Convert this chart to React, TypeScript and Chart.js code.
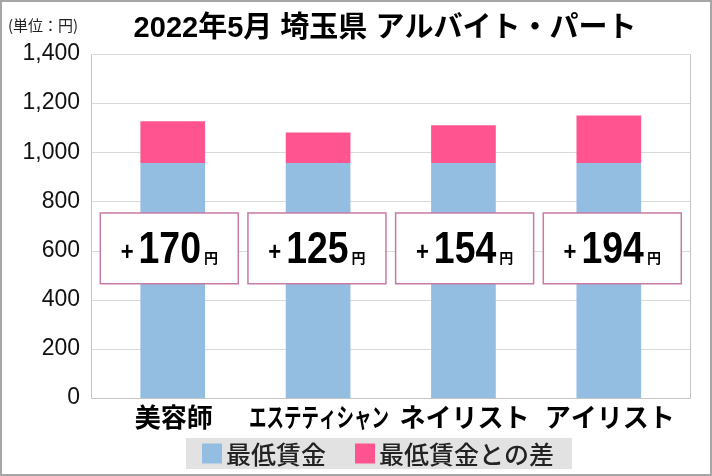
import { useEffect, useRef } from "react";
import { Chart, registerables, type ChartConfiguration, type Plugin } from "chart.js";

Chart.register(...registerables);

// 2022年5月 埼玉県 アルバイト・パート：最低賃金と平均時給の差
const TITLE = "2022年5月 埼玉県 アルバイト・パート";
const UNIT = "(単位：円)";
const CATEGORIES = ["美容師", "エステティシャン", "ネイリスト", "アイリスト"];
const MIN_WAGE = [956, 956, 956, 956];
const DIFF = [170, 125, 154, 194];
const SERIES_LABELS = ["最低賃金", "最低賃金との差"];
const SERIES_COLORS = ["#93BEE2", "#FF5490"];
const Y_MAX = 1400;
const Y_STEP = 200;

const JP = "'Noto Sans CJK JP', 'Liberation Sans', sans-serif";
const NUM = "'Liberation Sans', Arial, sans-serif";

// plot frame sticks out a little past the outermost bars, as in the source
const FRAME_LEFT = 9;
const FRAME_RIGHT = 8;

const decorPlugin: Plugin<"bar"> = {
  id: "decor",
  beforeDatasetsDraw(chart) {
    const { ctx, chartArea, scales } = chart;
    const y = scales.y;
    const l = Math.round(chartArea.left - FRAME_LEFT) + 0.5;
    const r = Math.round(chartArea.right + FRAME_RIGHT) + 0.5;
    ctx.save();
    ctx.lineWidth = 1;
    ctx.strokeStyle = "#d9d9d9";
    y.ticks.forEach((t) => {
      if (t.value === 0) return;
      const py = Math.round(y.getPixelForValue(t.value)) + 0.5;
      ctx.beginPath();
      ctx.moveTo(l, py);
      ctx.lineTo(r, py);
      ctx.stroke();
    });
    ctx.strokeStyle = "#c4c4c4";
    const t = Math.round(y.getPixelForValue(Y_MAX)) + 0.5;
    const b = Math.round(y.getPixelForValue(0)) + 0.5;
    ctx.beginPath();
    ctx.moveTo(l, t);
    ctx.lineTo(l, b);
    ctx.lineTo(r, b);
    ctx.lineTo(r, t);
    ctx.stroke();
    ctx.restore();
  },
  afterDatasetsDraw(chart) {
    const { ctx, scales } = chart;
    const x = scales.x;
    const y = scales.y;
    ctx.save();

    // difference callouts
    const top = y.getPixelForValue(753);
    const bottom = y.getPixelForValue(465);
    const mid = (top + bottom) / 2;
    const sx = 0.85;
    DIFF.forEach((d, i) => {
      const cx = x.getPixelForValue(i) + (i - 1.5) * 2.3;
      const w = 138;
      ctx.fillStyle = "#ffffff";
      ctx.fillRect(cx - w / 2, top, w, bottom - top);
      ctx.strokeStyle = "#C77AA3";
      ctx.lineWidth = 1.5;
      ctx.strokeRect(cx - w / 2, top, w, bottom - top);

      const plus = "+";
      const num = String(d);
      const yen = "円";
      ctx.font = `bold 26px ${NUM}`;
      const wPlus = ctx.measureText(plus).width * sx;
      ctx.font = `bold 44px ${NUM}`;
      const wNum = ctx.measureText(num).width * sx;
      ctx.font = `bold 14px ${JP}`;
      const wYen = ctx.measureText(yen).width;
      const total = wPlus + 5 + wNum + 3 + wYen;
      let tx = cx - total / 2;
      const base = mid + 15;
      ctx.fillStyle = "#000";
      ctx.textBaseline = "alphabetic";
      ctx.textAlign = "left";

      ctx.save();
      ctx.translate(tx, base);
      ctx.scale(sx, 1);
      ctx.font = `bold 26px ${NUM}`;
      ctx.fillText(plus, 0, -3);
      ctx.restore();
      tx += wPlus + 5;

      ctx.save();
      ctx.translate(tx, base);
      ctx.scale(sx, 1);
      ctx.font = `bold 44px ${NUM}`;
      ctx.fillText(num, 0, 0);
      ctx.restore();
      tx += wNum + 3;

      ctx.font = `bold 14px ${JP}`;
      ctx.fillText(yen, tx, base);
    });
    ctx.restore();
  },
  afterDraw(chart) {
    const { ctx, chartArea, scales, width, height } = chart;
    const x = scales.x;
    ctx.save();

    // title and unit
    ctx.fillStyle = "#000";
    ctx.textAlign = "center";
    ctx.textBaseline = "middle";
    ctx.font = `bold 29px 'Liberation Sans', ${JP}`;
    ctx.fillText(TITLE, 385, 29);
    ctx.textAlign = "left";
    ctx.font = `15px ${JP}`;
    ctx.fillStyle = "#222";
    ctx.fillText(UNIT, 8, 25);

    // category labels
    ctx.fillStyle = "#000";
    ctx.textAlign = "center";
    ctx.font = `bold 26px ${JP}`;
    CATEGORIES.forEach((c, i) => {
      ctx.fillText(c, x.getPixelForValue(i) + 1, chartArea.bottom + 19, 140);
    });

    // legend with grey panel
    ctx.font = `500 25px ${JP}`;
    const box = 20;
    const gapText = 4;
    const gapItem = 29;
    const items = SERIES_LABELS.map((l) => ctx.measureText(l).width);
    const inner = items.reduce((s, w) => s + box + gapText + w, 0) + gapItem;
    const cx = 378;
    const padL = 16;
    const padR = 18;
    const start = cx - inner / 2;
    const ly = chartArea.bottom + 55.5;
    ctx.fillStyle = "#E2E2E2";
    ctx.fillRect(start - padL, ly - 15.5, inner + padL + padR, 31);
    let lx = start;
    SERIES_LABELS.forEach((l, i) => {
      ctx.fillStyle = SERIES_COLORS[i];
      ctx.fillRect(lx, ly - box / 2, box, box);
      lx += box + gapText;
      ctx.fillStyle = "#222";
      ctx.textAlign = "left";
      ctx.fillText(l, lx, ly + 1);
      lx += items[i] + gapItem;
    });

    // outer frame
    ctx.strokeStyle = "#a6a6a6";
    ctx.lineWidth = 2;
    ctx.strokeRect(1, 1, width - 2, height - 2);
    ctx.restore();
  },
};

export default function App() {
  const canvasRef = useRef<HTMLCanvasElement>(null);

  useEffect(() => {
    if (!canvasRef.current) return;
    const cfg: ChartConfiguration<"bar", number[], string> = {
      type: "bar",
      data: {
        labels: CATEGORIES,
        datasets: [
          {
            label: SERIES_LABELS[0],
            data: MIN_WAGE,
            backgroundColor: SERIES_COLORS[0],
            barPercentage: 0.445,
            categoryPercentage: 1,
          },
          {
            label: SERIES_LABELS[1],
            data: DIFF,
            backgroundColor: SERIES_COLORS[1],
            barPercentage: 0.445,
            categoryPercentage: 1,
          },
        ],
      },
      options: {
        animation: false,
        responsive: false,
        devicePixelRatio: 1,
        layout: { padding: { top: 54, bottom: 70, left: 2.5, right: 30.5 } },
        plugins: {
          legend: { display: false },
          title: { display: false },
          tooltip: { enabled: false },
        },
        scales: {
          x: {
            stacked: true,
            grid: { display: false },
            border: { display: false },
            ticks: { display: false },
          },
          y: {
            stacked: true,
            min: 0,
            max: Y_MAX,
            grid: { display: false, drawTicks: false },
            border: { display: false },
            ticks: {
              stepSize: Y_STEP,
              padding: 20,
              color: "#111",
              font: { family: NUM, size: 23 },
              callback: (v) => Number(v).toLocaleString("en-US"),
            },
          },
        },
      },
      plugins: [decorPlugin],
    };
    const chart = new Chart(canvasRef.current, cfg);
    return () => chart.destroy();
  }, []);

  return (
    <div style={{ position: "fixed", left: 0, top: 0, width: 712, height: 476, background: "#fff" }}>
      <canvas ref={canvasRef} width={712} height={476} />
    </div>
  );
}
